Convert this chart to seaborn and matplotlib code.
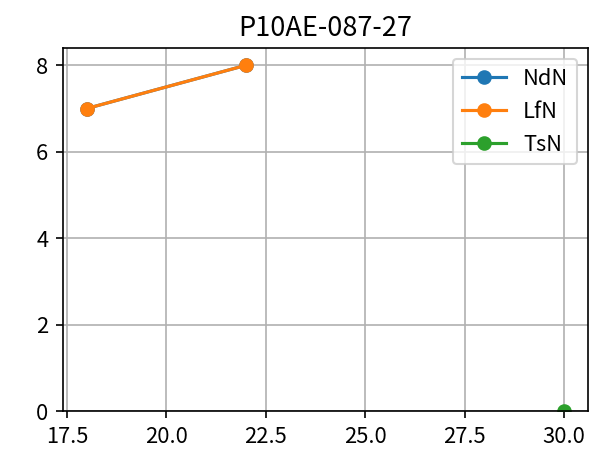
import matplotlib
matplotlib.use("Agg")
import matplotlib.pyplot as plt
import seaborn as sns
import pandas as pd

title = "P10AE-087-27"
series_names = ["NdN", "LfN", "TsN"]
ndn_x = [18, 22]
ndn_y = [7, 8]
lfn_x = [18, 22]
lfn_y = [7, 8]
tsn_x = [30]
tsn_y = [0]
x_ticks = [17.5, 20.0, 22.5, 25.0, 27.5, 30.0]
y_ticks = [0, 2, 4, 6, 8]

plt.rcParams['font.family'] = ['Noto Sans CJK SC', 'DejaVu Sans']
plt.rcParams['axes.unicode_minus'] = False

fig, ax = plt.subplots(figsize=(614/150, 459/150), dpi=150)
colors = sns.color_palette("tab10", 3)
data = [(ndn_x, ndn_y), (lfn_x, lfn_y), (tsn_x, tsn_y)]
for name, (xs, ys), c in zip(series_names, data, colors):
    df = pd.DataFrame({"x": xs, "y": ys})
    sns.lineplot(data=df, x="x", y="y", ax=ax, color=c, marker="o",
                 markersize=6, markeredgecolor=c, markeredgewidth=1,
                 linewidth=1.5, label=name)

ax.set_ylim(bottom=0)
ax.set_xlim(17.4, 30.6)
ax.set_xticks(x_ticks)
ax.set_xticklabels([f"{t:.1f}" for t in x_ticks])
ax.set_yticks(y_ticks)
ax.tick_params(labelsize=10.5)
ax.grid(True)
ax.set_xlabel("")
ax.set_ylabel("")
ax.set_title(title, fontsize=13)
ax.legend(loc="upper right", fontsize=10.5)
fig.subplots_adjust(left=63/614, right=588/614, top=1-48/459, bottom=1-411/459)
fig.savefig("out.png", dpi=150)
